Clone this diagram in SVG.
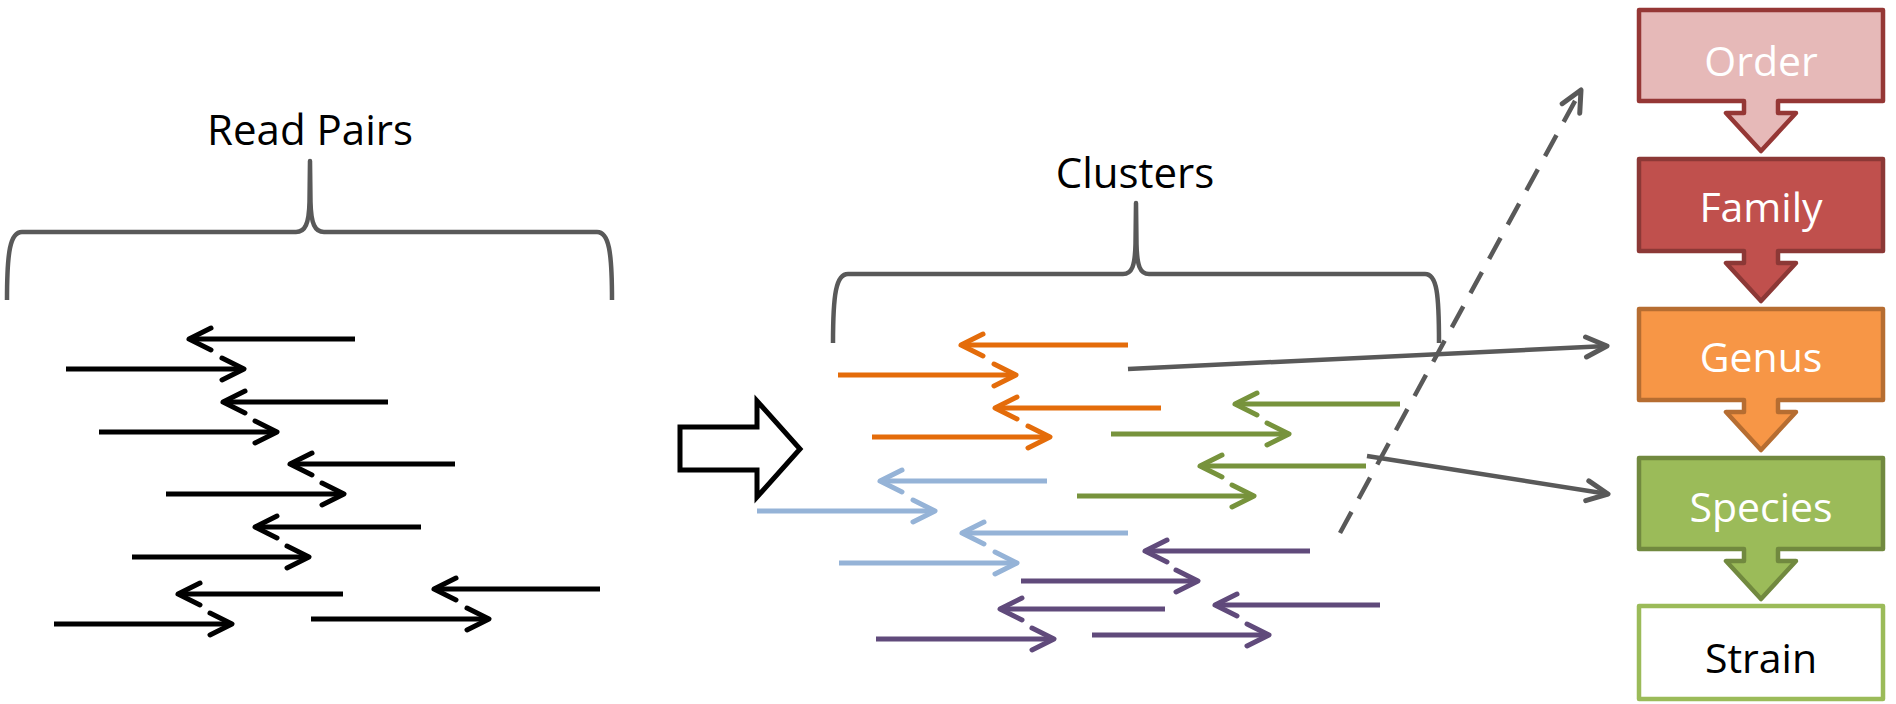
<svg xmlns="http://www.w3.org/2000/svg" width="1896" height="704" viewBox="0 0 1896 704">
<style>
.lbl{font-family:"Open Sans","Liberation Sans",sans-serif;font-size:42px;fill:#000;text-anchor:middle}
.bt{font-family:"Open Sans","Liberation Sans",sans-serif;font-size:41px;fill:#fff;text-anchor:middle}
.brace{fill:none;stroke:#595959;stroke-width:4.5;stroke-linejoin:round}
.a{fill:none;stroke-width:5;stroke-linecap:butt}
.k{stroke:#000;marker-end:url(#mk)}
.o{stroke:#E46C0A;marker-end:url(#mo)}
.g{stroke:#77933C;marker-end:url(#mg)}
.b{stroke:#95B3D7;marker-end:url(#mb)}
.p{stroke:#604A7B;marker-end:url(#mp)}
.c{fill:none;stroke:#595959;stroke-width:4.5;marker-end:url(#mc)}
.box{stroke-width:4.5;stroke-linejoin:round}
</style>
<defs>
<marker id="mk" markerUnits="userSpaceOnUse" viewBox="-30 -16 36 32" markerWidth="36" markerHeight="32" refX="0" refY="0" orient="auto" overflow="visible"><path d="M-22,-11 L0,0 L-22,11" fill="none" stroke="#000" stroke-width="5" stroke-linecap="round" stroke-linejoin="round"/></marker>
<marker id="mo" markerUnits="userSpaceOnUse" viewBox="-30 -16 36 32" markerWidth="36" markerHeight="32" refX="0" refY="0" orient="auto" overflow="visible"><path d="M-22,-11 L0,0 L-22,11" fill="none" stroke="#E46C0A" stroke-width="5" stroke-linecap="round" stroke-linejoin="round"/></marker>
<marker id="mg" markerUnits="userSpaceOnUse" viewBox="-30 -16 36 32" markerWidth="36" markerHeight="32" refX="0" refY="0" orient="auto" overflow="visible"><path d="M-22,-11 L0,0 L-22,11" fill="none" stroke="#77933C" stroke-width="5" stroke-linecap="round" stroke-linejoin="round"/></marker>
<marker id="mb" markerUnits="userSpaceOnUse" viewBox="-30 -16 36 32" markerWidth="36" markerHeight="32" refX="0" refY="0" orient="auto" overflow="visible"><path d="M-22,-11 L0,0 L-22,11" fill="none" stroke="#95B3D7" stroke-width="5" stroke-linecap="round" stroke-linejoin="round"/></marker>
<marker id="mp" markerUnits="userSpaceOnUse" viewBox="-30 -16 36 32" markerWidth="36" markerHeight="32" refX="0" refY="0" orient="auto" overflow="visible"><path d="M-22,-11 L0,0 L-22,11" fill="none" stroke="#604A7B" stroke-width="5" stroke-linecap="round" stroke-linejoin="round"/></marker>
<marker id="mc" markerUnits="userSpaceOnUse" viewBox="-30 -16 36 32" markerWidth="36" markerHeight="32" refX="0" refY="0" orient="auto" overflow="visible"><path d="M-21,-10 L0,0 L-21,10" fill="none" stroke="#595959" stroke-width="5" stroke-linecap="round" stroke-linejoin="round"/></marker>
</defs>
<rect width="1896" height="704" fill="#fff"/>

<g id="read-pairs">
<text class="lbl" x="310" y="145">Read Pairs</text>
<path class="brace" d="M7,300 C7,252 10,232 22,232 L296,232 C305,232 309,224 309.5,202 L310,161 L310.5,202 C311,224 315,232 324,232 L597,232 C609,232 612,252 612,300"/>
<g id="reads">
<path class="a k" d="M355,339 H189"/>
<path class="a k" d="M66,369 H244"/>
<path class="a k" d="M388,402 H223"/>
<path class="a k" d="M99,432 H277"/>
<path class="a k" d="M455,464 H290"/>
<path class="a k" d="M166,494 H344"/>
<path class="a k" d="M421,527 H255"/>
<path class="a k" d="M132,557 H309"/>
<path class="a k" d="M343,594 H178"/>
<path class="a k" d="M600,589 H434"/>
<path class="a k" d="M54,624 H232"/>
<path class="a k" d="M311,619 H489"/>
</g>
</g>

<g id="big-arrow">
<path d="M680,427 H757 V401 L800,449 L757,497 V470 H680 Z" fill="#fff" stroke="#000" stroke-width="5"/>
</g>

<g id="clusters">
<text class="lbl" x="1135" y="188">Clusters</text>
<path class="brace" d="M833,343 C833,294 836,274 848,274 L1123,274 C1132,274 1135,266 1135.5,244 L1136,203 L1136.5,244 C1137,266 1140,274 1149,274 L1425,274 C1437,274 1439,294 1439,343"/>
<g id="cluster-orange">
<path class="a o" d="M1128,345 H961"/>
<path class="a o" d="M838,375 H1016"/>
<path class="a o" d="M1161,408 H995"/>
<path class="a o" d="M872,437 H1050"/>
</g>
<g id="cluster-green">
<path class="a g" d="M1400,404 H1235"/>
<path class="a g" d="M1111,434 H1289"/>
<path class="a g" d="M1366,466 H1200"/>
<path class="a g" d="M1077,496 H1254"/>
</g>
<g id="cluster-blue">
<path class="a b" d="M1047,481 H880"/>
<path class="a b" d="M757,511 H935"/>
<path class="a b" d="M1128,533 H962"/>
<path class="a b" d="M839,563 H1017"/>
</g>
<g id="cluster-purple">
<path class="a p" d="M1310,551 H1145"/>
<path class="a p" d="M1021,581 H1198"/>
<path class="a p" d="M1165,609 H1000"/>
<path class="a p" d="M1380,605 H1215"/>
<path class="a p" d="M876,639 H1054"/>
<path class="a p" d="M1092,635 H1269"/>
</g>
</g>

<g id="connectors">
<path class="c" d="M1128,369 L1607,346"/>
<path class="c" d="M1367,456 L1608,494"/>
<path class="c" d="M1340,533 L1581,90" stroke-dasharray="24,15" stroke-width="5"/>
</g>

<g id="order">
<path class="box" d="M1639,10 H1883 V101 H1778 V113 H1796 L1761,151 L1726,113 H1744 V101 H1639 Z" fill="#E6B9B8" stroke="#953735"/>
<text class="bt" x="1761" y="76">Order</text>
</g>
<g id="family">
<path class="box" d="M1639,159 H1883 V251 H1778 V263 H1796 L1761,301 L1726,263 H1744 V251 H1639 Z" fill="#C0504D" stroke="#8C3836"/>
<text class="bt" x="1761" y="222">Family</text>
</g>
<g id="genus">
<path class="box" d="M1639,309 H1883 V400 H1778 V412 H1796 L1761,450 L1726,412 H1744 V400 H1639 Z" fill="#F79646" stroke="#B66D31"/>
<text class="bt" x="1761" y="372">Genus</text>
</g>
<g id="species">
<path class="box" d="M1639,458 H1883 V549 H1778 V561 H1796 L1761,599 L1726,561 H1744 V549 H1639 Z" fill="#9BBB59" stroke="#71893F"/>
<text class="bt" x="1761" y="522">Species</text>
</g>
<g id="strain">
<rect class="box" x="1639" y="606" width="244" height="93" fill="#fff" stroke="#9BBB59"/>
<text class="bt" x="1761" y="673" style="fill:#000">Strain</text>
</g>
</svg>
